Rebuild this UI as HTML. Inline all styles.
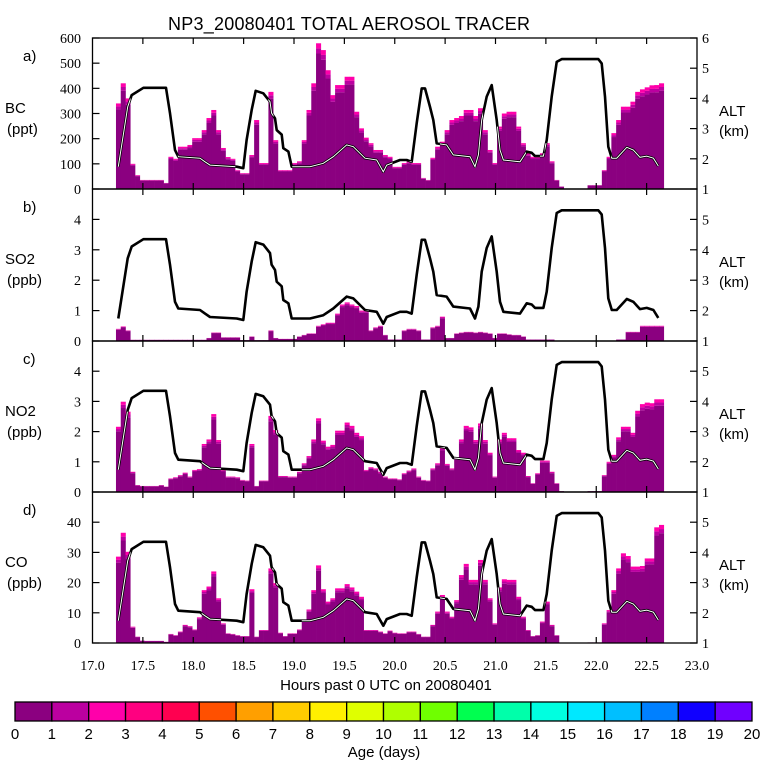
<!DOCTYPE html>
<html><head><meta charset="utf-8">
<style>
html,body{margin:0;padding:0;background:#fff;}
svg{display:block;}
.sf{font-family:"Liberation Serif",serif;font-size:14px;}
.ss{font-family:"Liberation Sans",sans-serif;font-size:15px;}
</style></head>
<body>
<svg id="chart" width="768" height="768" viewBox="0 0 768 768" xmlns="http://www.w3.org/2000/svg">
<rect width="768" height="768" fill="#fff"/>
<text x="168" y="30" class="ss" style="font-size:18px" textLength="362">NP3_20080401 TOTAL AEROSOL TRACER</text>
<g id="panels"></g>
<g id="xlabels"></g>
<text x="386" y="690" class="ss" text-anchor="middle">Hours past 0 UTC on 20080401</text>
<g id="colorbar"></g>
<text x="384" y="757" class="ss" text-anchor="middle">Age (days)</text>
</svg>
<script>
// ---- data ----
const tStart = 17.233;
const tStep = 0.04728;
const bcValues = [340,420,360,100,55,36,36,36,36,36,24,128,120,168,168,175,202,202,234,282,314,234,163,127,120,75,63,63,135,274,103,103,386,194,75,75,75,103,110,194,314,420,579,552,472,373,413,413,446,446,307,241,204,182,155,155,135,
128,88,88,103,110,103,103,44,36,124,168,188,234,274,282,290,314,314,290,321,234,155,103,248,300,307,307,248,182,142,128,128,142,182,110,36,10,0,0,0,0,0,15,15,15,75,128,222,274,327,327,347,386,396,404,412,413,420];
const so2Values = [0.4,0.48,0.35,0.04,0.04,0.04,0.04,0.04,0.04,0.04,0.04,0.04,0.04,0.04,0.04,0.04,0.04,0.04,0.04,0.1,0.28,0.28,0.12,0.12,0.12,0.12,0.03,0.03,0.15,0.03,0.03,0.03,0.35,0.1,0.07,0.07,0.07,0.07,0.15,0.2,0.25,0.25,0.5,0.55,0.6,0.6,0.9,1.2,1.27,1.2,1.15,1.0,1.0,0.35,0.45,0.5,0.2,0.05,0.05,0.05,0.35,0.4,0.4,0.35,0.05,0.05,0.45,0.5,0.8,0.1,0.1,0.25,0.28,0.3,0.3,0.28,0.3,0.28,0.25,0.1,0.25,0.25,0.22,0.2,0.2,0.15,0.05,0.05,0.05,0.05,0.05,0.05,0,0,0,0,0,0,0,0,0,0,0,0,0,0.05,0.05,0.3,0.3,0.3,0.5,0.5,0.5,0.5,0.5];
const no2Values = [2.16,2.99,2.66,0.67,0.23,0.2,0.2,0.2,0.2,0.23,0.18,0.45,0.49,0.56,0.64,0.51,0.73,0.76,1.59,1.74,2.58,1.72,0.73,0.51,0.51,0.49,0.4,0.38,1.59,0.2,0.38,0.38,2.52,2.05,0.53,0.53,0.51,0.51,0.67,0.95,1.19,1.74,2.44,1.7,1.5,1.56,2.03,2.03,2.3,2.19,1.96,1.85,0.73,0.82,0.78,0.67,0.51,
0.45,0.45,0.42,0.62,0.71,0.78,0.51,0.4,0.38,0.78,0.95,1.48,0.93,0.78,1.15,1.74,2.19,2.14,1.72,2.27,1.72,1.3,0.51,1.74,1.96,1.78,1.78,1.39,1.3,0.53,0.29,0.62,1.04,1.04,0.67,0.29,0.03,0,0,0,0,0,0.03,0.03,0.03,0.56,1.0,1.23,1.81,2.16,2.16,1.96,2.69,2.91,2.96,2.94,3.07,3.07];
const coValues = [28.6,36.5,30.2,5.4,2.1,0.8,0.7,0.7,0.7,0.7,0.4,3.0,2.6,3.8,6.0,5.6,4.5,8.5,17.5,18.7,23.7,14.8,6.5,3.2,3.0,2.6,2.3,2.3,17.8,2.1,4.3,4.3,24.7,19.8,3.4,2.3,3.2,3.2,4.5,7.6,11.1,17.5,25.7,17.8,13.7,14.8,18.1,18.1,19.5,18.4,17.0,15.3,4.3,4.3,4.3,3.8,3.2,
4.1,3.4,3.2,3.2,3.8,3.8,3.0,2.1,2.1,6.0,10.4,15.9,10.4,8.7,14.2,22.5,26.2,20.9,20.9,27.5,20.9,14.8,6.5,18.4,21.1,20.9,20.9,15.3,8.7,4.3,2.3,2.6,7.1,13.7,6.0,2.6,0.1,0,0,0,0,0,0.2,0.2,0.2,6.5,10.9,17.5,24.7,29.7,28.8,25.3,25.3,25.5,28.0,28.0,38.3,39.1];
const altTimes = [17.256,17.349,17.389,17.505,17.73,17.769,17.819,17.852,18.067,18.117,18.166,18.431,18.497,18.530,18.580,18.620,18.695,18.762,18.778,18.811,18.828,18.878,18.894,18.944,18.977,19.159,19.291,19.390,19.523,19.589,19.705,19.821,19.886,19.920,20.052,20.119,20.168,20.218,20.267,20.300,20.350,20.383,20.416,20.515,20.581,20.747,20.797,20.830,20.863,20.913,20.962,21.012,21.045,21.078,21.243,21.310,21.359,21.392,21.475,21.508,21.558,21.607,21.657,22.020,22.054,22.087,22.120,22.154,22.203,22.303,22.368,22.434,22.501,22.567,22.616];
const altKm = [1.74,3.72,4.11,4.35,4.35,3.51,2.29,2.07,2.02,1.9,1.79,1.74,1.69,2.62,3.62,4.25,4.17,3.89,3.51,3.34,2.95,2.8,2.35,2.24,1.74,1.74,1.85,2.07,2.46,2.4,2.02,1.96,1.57,1.79,1.96,1.96,1.9,3.18,4.33,4.33,3.72,3.28,2.51,2.46,2.13,2.07,1.74,2.13,3.28,4.06,4.44,3.28,2.29,1.96,1.9,2.24,2.2,2.09,2.09,2.62,4.06,5.21,5.3,5.3,5.16,4.06,2.4,2.02,2.02,2.38,2.29,2.05,2.09,2.02,1.76];
const xTickLabels = ["17.0","17.5","18.0","18.5","19.0","19.5","20.0","20.5","21.0","21.5","22.0","22.5","23.0"];
const panelNames = ["bc","so2","no2","co"];
const panelLetters = ["a)","b)","c)","d)"];
const speciesLabels = ["BC","SO2","NO2","CO"];
const unitLabels = ["(ppt)","(ppb)","(ppb)","(ppb)"];
const leftMax = [600,5,5,50];
const leftTicks = [[0,100,200,300,400,500,600],[0,1,2,3,4],[0,1,2,3,4],[0,10,20,30,40]];
const rightTicks = [[1,2,3,4,5,6],[1,2,3,4,5],[1,2,3,4,5],[1,2,3,4,5]];
const ageLabels = ["0","1","2","3","4","5","6","7","8","9","10","11","12","13","14","15","16","17","18","19","20"];
const ageColors = ["#8b0080","#bb00a0","#ff00aa","#ff0080","#ff0050","#ff5000","#ff9f00","#ffcc00","#fff000","#dfff00","#afff00","#6fff00","#00ff50","#00ffaa","#00ffe0","#00e8ff","#00bfff","#0080ff","#1000ff","#7000ff"];
const seriesList = [bcValues, so2Values, no2Values, coValues];

// ---- layout ----
const NS = "http://www.w3.org/2000/svg";
const X0 = 92.5, X1 = 697;
const tops = [38,189,341,492], bottoms = [189,341,492,643];
function xScale(t){ return X0 + (t-17)*(X1-X0)/6; }
function mk(tag, attrs, parent){ const e=document.createElementNS(NS,tag); for(const k in attrs) e.setAttribute(k,attrs[k]); parent.appendChild(e); return e; }

const panelsG = document.getElementById("panels");
const defs = mk("defs",{},document.getElementById("chart"));

seriesList.forEach((vals, p) => {
  const top=tops[p], bot=bottoms[p], h=bot-top;
  const yL = v => bot - v/leftMax[p]*h;
  const yR = a => bot - (a-1)/5*h;
  const g = mk("g",{},panelsG);
  
  
  const clip = mk("clipPath",{id:"clip"+p},defs);
  const barsG = mk("g",{},g);
  
  
  vals.forEach((v,i) => {
    if (v<=0) return;
    const t = tStart + i*tStep;
    const x = xScale(t), w = xScale(t+tStep)-x+0.3;
    const yTop = yL(v);
    const fr = [0.93,0.035,0.035];
    let base = bot;
    fr.forEach((f,j) => {
      const hh = (bot-yTop)*f;
      const r = mk("rect",{x:x.toFixed(2),y:(base-hh).toFixed(2),width:w.toFixed(2),height:hh.toFixed(2),fill:ageColors[j]},barsG);
      
      
      base -= hh;
    });
    mk("rect",{x:x.toFixed(2),y:yTop.toFixed(2),width:w.toFixed(2),height:(bot-yTop).toFixed(2)},clip);
  });
  const d = altTimes.map((t,i)=>(i?"L":"M")+xScale(t).toFixed(1)+","+yR(altKm[i]).toFixed(1)).join("");
  const l1 = mk("path",{d:d,fill:"none",stroke:"#000","stroke-width":"2.6","stroke-linejoin":"round"},g);
  
  
  const l2 = mk("path",{d:d,fill:"none",stroke:"#fff","stroke-width":"1","clip-path":"url(#clip"+p+")"},g);
  
  
  const fr = mk("rect",{x:X0,y:top,width:X1-X0,height:h,fill:"none",stroke:"#000","stroke-width":"1.3"},g);
  
  
  for(let k=1;k<12;k++){
    const x = xScale(17+k*0.5);
    const a = mk("line",{x1:x,x2:x,y1:top,y2:top+6,stroke:"#000","stroke-width":"1.2"},g);
    
    
    const b = mk("line",{x1:x,x2:x,y1:bot,y2:bot-6,stroke:"#000","stroke-width":"1.2"},g);
    
    
  }
  leftTicks[p].forEach(v => {
    const y = yL(v);
    const ln = mk("line",{x1:X0,x2:X0+7,y1:y,y2:y,stroke:"#000","stroke-width":"1.2"},g);
    
    
    const tx = mk("text",{x:81,y:y+5,"text-anchor":"end","class":"sf"},g);
    tx.textContent = String(v);
    
    
  });
  rightTicks[p].forEach(a => {
    const y = yR(a);
    const ln = mk("line",{x1:X1-7,x2:X1,y1:y,y2:y,stroke:"#000","stroke-width":"1.2"},g);
    
    
    const tx = mk("text",{x:702,y:y+5,"class":"sf"},g);
    tx.textContent = String(a);
    
    
  });
  const lt = mk("text",{x:23,y:top+23,"class":"ss"},g);
  lt.textContent = panelLetters[p];
  
  
  const sp = mk("text",{x:5,y:top+75,"class":"ss"},g);
  sp.textContent = speciesLabels[p];
  
  
  const un = mk("text",{x:7,y:top+96,"class":"ss"},g);
  un.textContent = unitLabels[p];
  
  
  const al = mk("text",{x:719,y:top+78,"class":"ss"},g);
  al.textContent = "ALT";
  
  
  const km = mk("text",{x:719,y:top+98,"class":"ss"},g);
  km.textContent = "(km)";
  
  
});

const xl = document.getElementById("xlabels");
xTickLabels.forEach((s,k) => {
  const t = mk("text",{x:xScale(17+k*0.5),y:670,"text-anchor":"middle","class":"sf"},xl);
  t.textContent = s;
  
  
});

const cb = document.getElementById("colorbar");
const CB0=15, CB1=752, cw=(CB1-CB0)/20;
ageColors.forEach((c,i) => {
  const r = mk("rect",{x:CB0+i*cw,y:702,width:cw,height:19,fill:c,stroke:"#000","stroke-width":"1.3"},cb);
  
  
});
ageLabels.forEach((s,i) => {
  const t = mk("text",{x:CB0+i*cw,y:739,"text-anchor":"middle","class":"ss"},cb);
  t.textContent = s;
  
  
});
</script>
</body></html>
